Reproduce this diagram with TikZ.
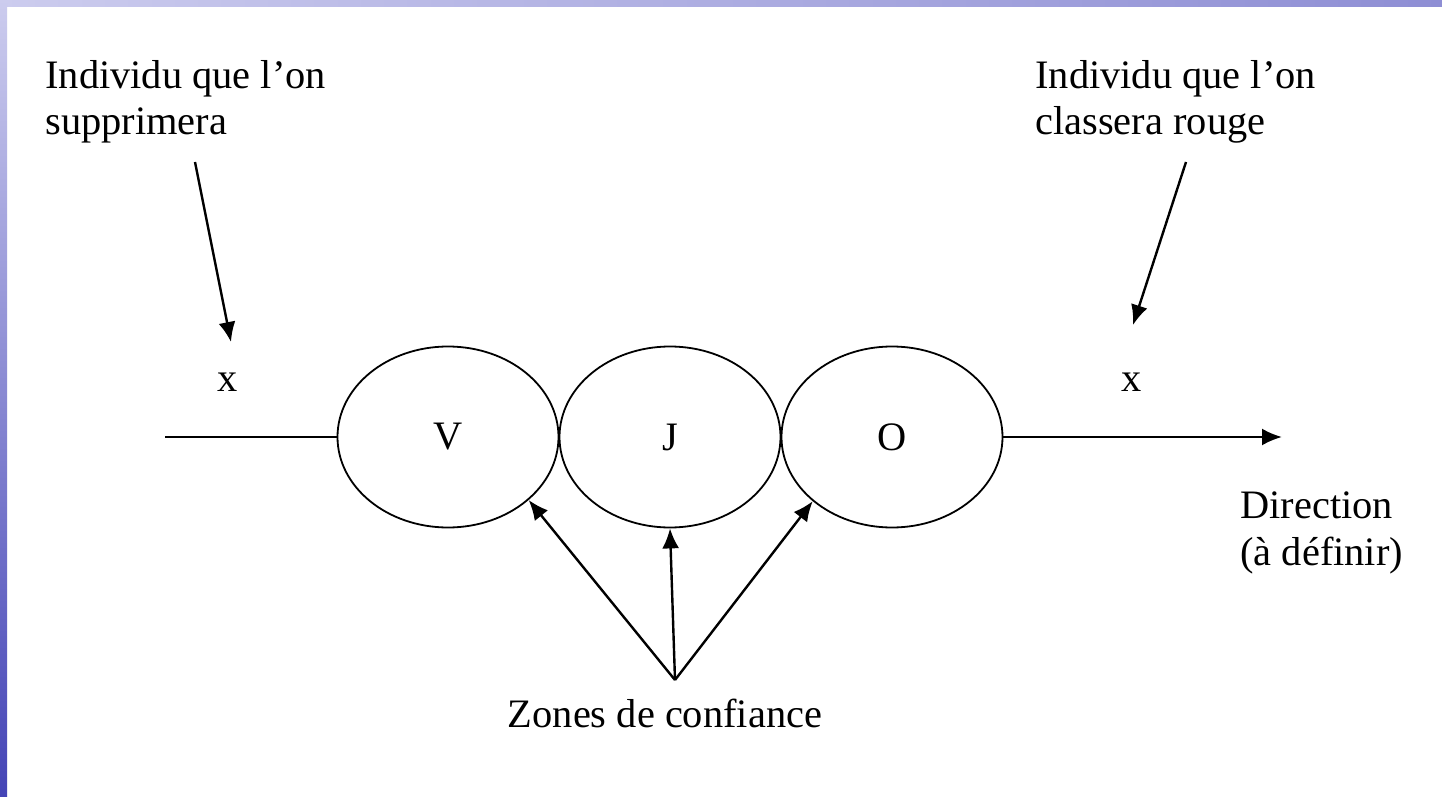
\documentclass[tikz,border=0pt]{standalone}
\usepackage{fontspec}
\setmainfont{Liberation Serif}
\usetikzlibrary{arrows.meta,shapes.geometric,calc}
\definecolor{lavlight}{RGB}{204,204,238}
\definecolor{lavmid}{RGB}{142,142,212}
\definecolor{bluedark}{RGB}{68,68,182}
\tikzset{
  zone/.style={draw, ellipse, line width=0.9pt, minimum width=110.5pt, minimum height=90.5pt, inner sep=0pt, font=\fontsize{20.2}{23.5}\selectfont},
  lbl/.style={inner sep=0pt, font=\fontsize{20.2}{23.5}\selectfont, align=left},
  conn/.style={line width=1.2pt},
  arr/.style={line width=1.2pt, -{Latex[length=10pt,width=8.5pt]}},
}
\begin{document}
\begin{tikzpicture}[x=0.5pt,y=-0.5pt]
\useasboundingbox (0,0) rectangle (1442,797);
\fill[white] (0,0) rectangle (1442,797);
\shade[left color=lavlight, right color=lavmid] (0,0) rectangle (1442,7);
\shade[top color=lavlight, bottom color=bluedark] (0,0) rectangle (7,797);

% ellipses
\node[zone] (V) at (448,437) {V};
\node[zone] (J) at (670,437) {J};
\node[zone] (O) at (892,437) {O};

% main axis
\coordinate (L) at (165,437);
\coordinate (R) at (1282,437);
\draw[conn] (L) -- (V.west);
\draw[arr] (O.east) -- (R);

% individuals
\node[lbl] (x1) at (228,382) {x};
\node[lbl] (x2) at (1132,382) {x};

\node[lbl, anchor=base west] (t1) at (45,135) {Individu que l’on\\supprimera};
\node[lbl, anchor=base west] (t2) at (1035,135) {Individu que l’on\\classera rouge};

\coordinate (s1) at (195,162);
\coordinate (e1) at (231,342);
\coordinate (s2) at (1186,162);
\coordinate (e2) at (1133,325);
\draw[arr] (s1) -- (e1);
\draw[arr] (s2) -- (e2);

% direction
\node[lbl, anchor=base west] (dir) at (1240,565) {Direction\\(à définir)};

% zones de confiance
\coordinate (zc) at (675,680);
\node[lbl, anchor=base] (zt) at (665,727) {Zones de confiance};
\draw[arr] (zc) -- (V.-38);
\draw[arr] (zc) -- (J.south);
\draw[arr] (zc) -- (O.-141);
\end{tikzpicture}
\end{document}
